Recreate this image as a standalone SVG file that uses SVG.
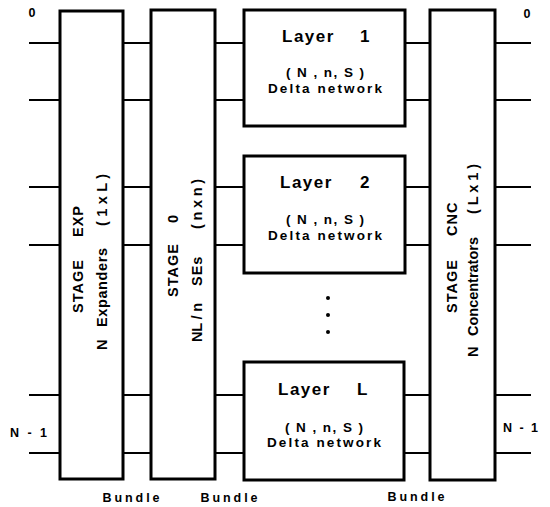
<svg xmlns="http://www.w3.org/2000/svg" width="550" height="507" viewBox="0 0 550 507">
<style>
.box{fill:#fff;stroke:#000;stroke-width:3}
.w{stroke:#000;stroke-width:2;fill:none}
text{font-family:"Liberation Sans",Arial,sans-serif;font-weight:bold;fill:#000}
.v{font-size:14.5px;letter-spacing:1px}
.lay{font-size:17px;letter-spacing:1.5px}
.sm{font-size:13.5px;text-anchor:middle}
.lbl{font-size:12.5px}
</style>
<rect width="550" height="507" fill="#fff"/>
<g id="connectors">
<path class="w" d="M29 43H60M29 100H60M29 187H60M29 245H60M29 395H60M29 453H60"/>
<path class="w" d="M123 43H151M123 100H151M123 187H151M123 245H151M123 395H151M123 453H151"/>
<path class="w" d="M215 43H244M215 100H244M215 187H244M215 245H244M215 395H244M215 453H244"/>
<path class="w" d="M405 43H430M405 100H430M405 187H430M405 245H430M405 395H430M405 453H430"/>
<path class="w" d="M495 43H531M495 100H531M495 187H531M495 245H531M495 395H531M495 453H531"/>
</g>
<g id="stage-exp">
<rect class="box" x="60" y="11" width="63" height="468"/>
<g transform="rotate(-90)">
<text class="v" x="-313" y="83">STAGE</text>
<text class="v" x="-237" y="83">EXP</text>
<text class="v" x="-350" y="107">N</text>
<text class="v" x="-327" y="107" textLength="80">Expanders</text>
<text class="v" x="-226" y="107" xml:space="preserve" textLength="53">( 1 x L )</text>
</g>
</g>
<g id="stage-0">
<rect class="box" x="151" y="10" width="64" height="469"/>
<g transform="rotate(-90)">
<text class="v" x="-297" y="178">STAGE</text>
<text class="v" x="-223" y="178">0</text>
<text class="v" x="-342" y="202" xml:space="preserve" textLength="40">NL / n</text>
<text class="v" x="-286" y="202">SEs</text>
<text class="v" x="-229" y="202" xml:space="preserve" textLength="51">( n x n )</text>
</g>
</g>
<g id="layer-1">
<rect class="box" x="244" y="10" width="161" height="116"/>
<text class="lay" x="282" y="42">Layer</text>
<text class="lay" x="371" y="42" text-anchor="end" letter-spacing="0">1</text>
<text class="sm" x="325" y="77" xml:space="preserve" textLength="78">( N , n, S )</text>
<text class="sm" x="325" y="93" textLength="114">Delta network</text>
</g>
<g id="layer-2">
<rect class="box" x="244" y="156" width="161" height="117"/>
<text class="lay" x="280" y="188">Layer</text>
<text class="lay" x="371" y="188" text-anchor="end" letter-spacing="0">2</text>
<text class="sm" x="325" y="224" xml:space="preserve" textLength="78">( N , n, S )</text>
<text class="sm" x="325" y="240" textLength="114">Delta network</text>
</g>
<g id="dots">
<circle cx="328" cy="298" r="2"/>
<circle cx="328" cy="315" r="2"/>
<circle cx="328" cy="332" r="2"/>
</g>
<g id="layer-L">
<rect class="box" x="244" y="362" width="160" height="118"/>
<text class="lay" x="278" y="395">Layer</text>
<text class="lay" x="369" y="395" text-anchor="end" letter-spacing="0">L</text>
<text class="sm" x="324" y="432" xml:space="preserve" textLength="78">( N , n, S )</text>
<text class="sm" x="324" y="447" textLength="114">Delta network</text>
</g>
<g id="stage-cnc">
<rect class="box" x="430" y="10" width="65" height="470"/>
<g transform="rotate(-90)">
<text class="v" x="-313" y="457">STAGE</text>
<text class="v" x="-236" y="457">CNC</text>
<text class="v" x="-357" y="478">N</text>
<text class="v" x="-336" y="478" textLength="100">Concentrators</text>
<text class="v" x="-214" y="478" xml:space="preserve" textLength="51">( L x 1 )</text>
</g>
</g>
<g id="labels">
<text class="lbl" x="32" y="17" text-anchor="middle">0</text>
<text class="lbl" x="527" y="18" text-anchor="middle">0</text>
<text class="lbl" x="10" y="437" xml:space="preserve" textLength="37">N - 1</text>
<text class="lbl" x="503" y="432" xml:space="preserve" textLength="35">N - 1</text>
<text class="lbl" x="131" y="502" text-anchor="middle" textLength="57">Bundle</text>
<text class="lbl" x="229" y="502" text-anchor="middle" textLength="57">Bundle</text>
<text class="lbl" x="416" y="501" text-anchor="middle" textLength="57">Bundle</text>
</g>
</svg>
